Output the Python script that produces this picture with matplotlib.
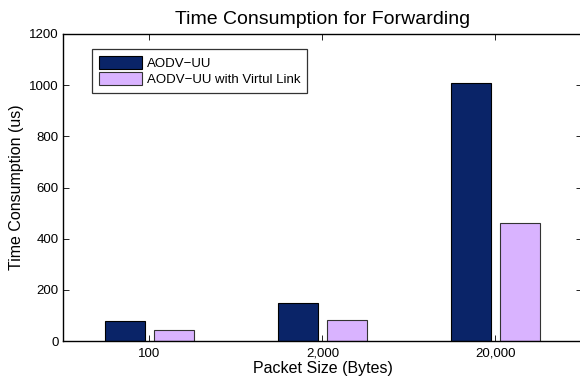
import numpy as np
import matplotlib.pyplot as plt

plt.rcParams['font.family'] = ['Liberation Sans', 'DejaVu Sans']

packet_sizes = ['100', '2,000', '20,000']
aodv_uu = [78, 147, 1010]
aodv_uu_virtual = [43, 82, 460]
series_names = ['AODV\u2212UU', 'AODV\u2212UU with Virtul Link']
y_ticks = [0, 200, 400, 600, 800, 1000, 1200]

fig = plt.figure(figsize=(5.80, 3.81), dpi=100)
ax = fig.add_axes([63 / 580, 40 / 381, 519 / 580, 307 / 381])

x = np.arange(1, len(packet_sizes) + 1)
width = 0.23
offset = 0.143

ax.bar(x - offset, aodv_uu, width, color='#0a2468', edgecolor='black',
       linewidth=0.8, label=series_names[0])
ax.bar(x + offset, aodv_uu_virtual, width, color='#d9b3ff', edgecolor='#333333',
       linewidth=0.8, label=series_names[1])

ax.set_xlim(0.5, 3.5)
ax.set_ylim(0, 1200)
ax.set_xticks(x)
ax.set_xticklabels(packet_sizes)
ax.set_yticks(y_ticks)

ax.tick_params(direction='in', length=4, width=0.6, labelsize=9.5,
               top=True, right=True, pad=3)
ax.tick_params(axis='x', pad=5)
for spine in ax.spines.values():
    spine.set_linewidth(1.0)

ax.set_title('Time Consumption for Forwarding', fontsize=14, pad=7)
ax.set_xlabel('Packet Size (Bytes)', fontsize=11.5, labelpad=1)
ax.set_ylabel('Time Consumption (us)', fontsize=11.5, labelpad=4)

leg = ax.legend(loc='upper left', bbox_to_anchor=(0.056, 0.951), fontsize=9.5,
                frameon=True, fancybox=False, edgecolor='black',
                handlelength=3.3, handleheight=1.15, handletextpad=0.35,
                borderpad=0.5, labelspacing=0.2, borderaxespad=0)
leg.get_frame().set_linewidth(0.9)

fig.savefig('out.png', dpi=100)
